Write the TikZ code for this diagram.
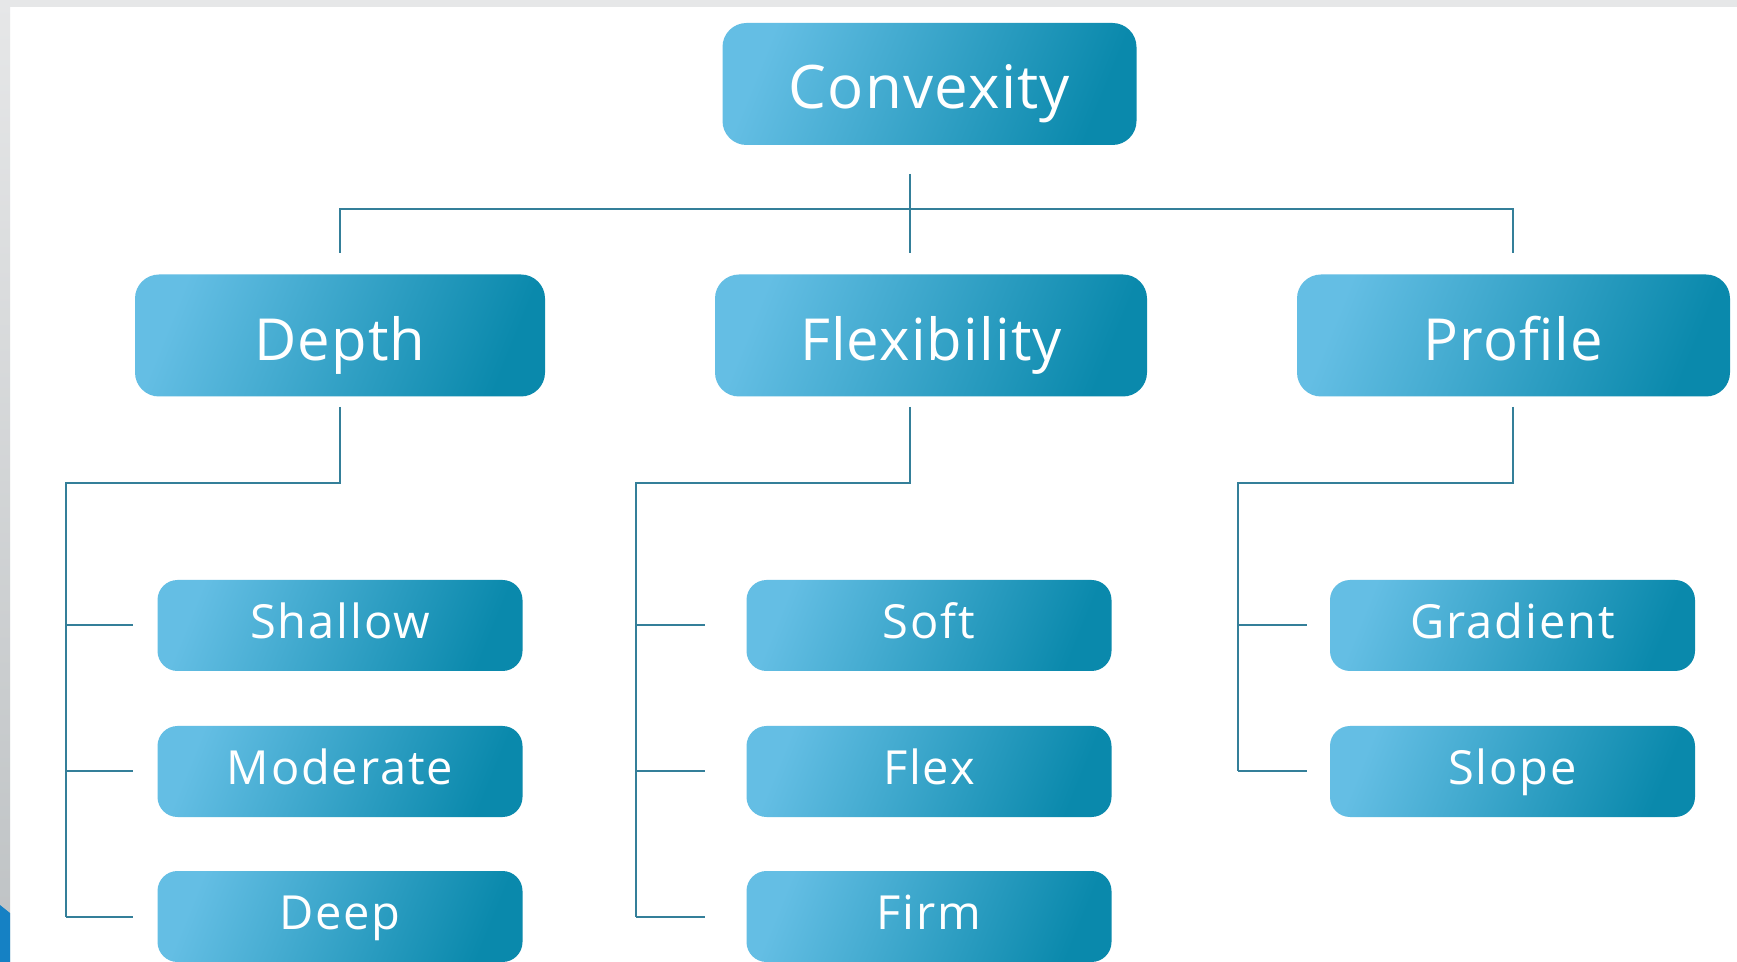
\documentclass[tikz,border=0pt]{standalone}
\usepackage{fontspec}
\setmainfont{Open Sans}[LetterSpace=2.0]
\newfontfamily\leaffont{Open Sans}[LetterSpace=4.0]
\definecolor{boxlight}{HTML}{64BEE4}
\definecolor{boxmid}{HTML}{3AA4CE}
\definecolor{boxdark}{HTML}{0A89AC}
\definecolor{linecol}{HTML}{347F99}
\definecolor{bandgray}{HTML}{E6E7E8}
\definecolor{edgegray}{HTML}{BEC2C4}
\definecolor{cornerblue}{HTML}{1581C4}
\tikzset{
  catbox/.style={rounded corners=12pt, left color=boxlight, middle color=boxmid, right color=boxdark, shading angle=68, text=white,
    minimum height=61pt, inner sep=0pt, text height=25pt, text depth=0pt, font=\fontsize{29}{31}\selectfont},
  leafbox/.style={rounded corners=10pt, left color=boxlight, middle color=boxmid, right color=boxdark, shading angle=68, text=white,
    minimum width=182.5pt, minimum height=45.5pt, inner sep=0pt, text height=16.8pt, text depth=4pt, font=\leaffont\fontsize{23.5}{26}\selectfont},
  link/.style={draw=linecol, line width=1pt}
}
\newcommand{\cat}[5]{\node[catbox, minimum width=#4pt] (#1) at (#2,#3) {#5};}
\newcommand{\leaf}[4]{\node[leafbox] (#1) at (#2,#3) {#4};}
\newcommand{\link}[2]{\draw[link] (#1) -- (#2);}

\begin{document}
\begin{tikzpicture}[x=0.5pt,y=-0.5pt]
    \fill[white] (0,0) rectangle (1737,962); \fill[bandgray] (0,0) rectangle (1737,7);
    \shade[top color=bandgray, bottom color=edgegray] (0,0) rectangle (10,962);
    \fill[cornerblue] (0,905) -- (10,913) -- (10,962) -- (0,962) -- cycle;

    \cat{cvx}{929.5}{84}{207}{\fontsize{30}{32}\selectfont Convexity}
    \cat{dep}{340}{335.5}{205}{Depth}   \cat{flx}{931}{335.5}{216}{Flexibility}   \cat{pro}{1513.5}{335.5}{216.5}{Profile}
    \leaf{sha}{340}{625.5}{Shallow}  \leaf{mod}{340}{771.5}{Moderate}  \leaf{dee}{340}{916.5}{Deep}
    \leaf{sof}{929}{625.5}{Soft}     \leaf{fle}{929}{771.5}{Flex}      \leaf{fir}{929}{916.5}{Firm}
    \leaf{gra}{1512.5}{625.5}{Gradient}  \leaf{slo}{1512.5}{771.5}{Slope}

    \coordinate (c0) at (910,174); \coordinate (c1) at (910,253); \coordinate (bus) at (910,209);
    \coordinate (d0) at (340,253); \coordinate (p0) at (1513,253);
    \link{c0}{c1} \draw[link] (d0) -- (d0 |- bus) -- (p0 |- bus) -- (p0);

    \coordinate (dS) at (340,407);  \coordinate (dT) at (66,483);   \coordinate (dE) at (133,483);
    \coordinate (fS) at (910,407);  \coordinate (fT) at (636,483);  \coordinate (fE) at (705,483);
    \coordinate (pS) at (1513,407); \coordinate (pT) at (1238,483); \coordinate (pE) at (1307,483);
    \draw[link] (dS) |- (dT) -- (dT |- dee);
    \draw[link] (fS) |- (fT) -- (fT |- fir);
    \draw[link] (pS) |- (pT) -- (pT |- slo);
    \foreach \n in {sha,mod,dee} {\link{dT |- \n}{dE |- \n}}
    \foreach \n in {sof,fle,fir} {\link{fT |- \n}{fE |- \n}}
    \foreach \n in {gra,slo} {\link{pT |- \n}{pE |- \n}}
\end{tikzpicture}
\end{document}
